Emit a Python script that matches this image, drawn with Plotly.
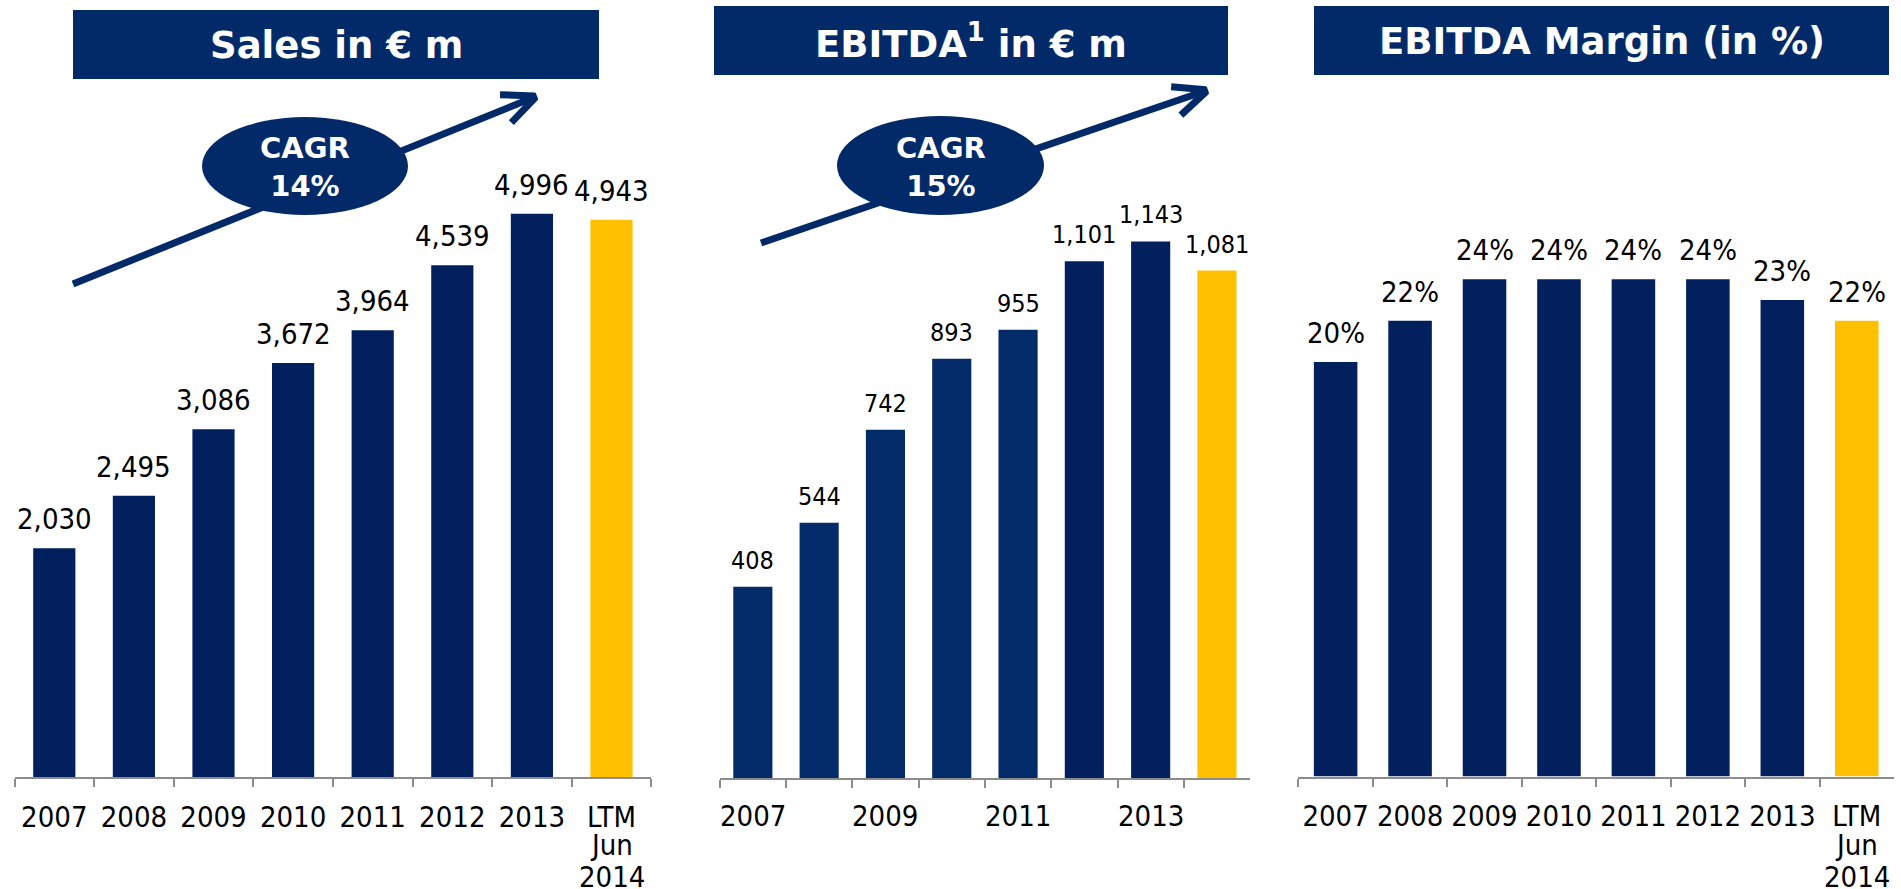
import math
import plotly.graph_objects as go

# ---------------- data ----------------
categories = ["2007", "2008", "2009", "2010", "2011", "2012", "2013", "LTM Jun 2014"]
ticks_full = ["2007", "2008", "2009", "2010", "2011", "2012", "2013", "LTM"]
ltm_extra = ["Jun", "2014"]
ticks_ebitda = ["2007", "", "2009", "", "2011", "", "2013", ""]
sales = [2030, 2495, 3086, 3672, 3964, 4539, 4996, 4943]
ebitda = [408, 544, 742, 893, 955, 1101, 1143, 1081]
margin = [20, 22, 24, 24, 24, 24, 23, 22]
titles = ["Sales in € m", "EBITDA<sup>1</sup> in € m", "EBITDA Margin (in %)"]
cagr_labels = ["CAGR<br>14%", "CAGR<br>15%"]

# ---------------- styling ----------------
NAVY = "#02205E"
NAVY2 = "#032A69"
BOX = "#022A68"
YELLOW = "#FFC000"
AXIS = "#8C8C8C"
FONT = "DejaVu Sans"
LFONT = "DejaVu Sans Condensed, DejaVu Sans"

W, H, OFF = 1901, 889, 0


def fx(x):
    return min(1.0, max(0.0, (x - OFF) / W))


def fy(y):
    return min(1.0, max(0.0, 1 - (y - OFF) / H))


def px(x):
    return (x - OFF) / W


def py(y):
    return 1 - (y - OFF) / H


fig = go.Figure()

colors1 = [NAVY] * 7 + [YELLOW]
colors2 = [NAVY2] * 5 + [NAVY] * 2 + [YELLOW]
colors3 = [NAVY] * 7 + [YELLOW]

fig.add_trace(go.Bar(x=categories, y=sales, marker=dict(color=colors1, line_width=0),
                     width=0.53, xaxis="x", yaxis="y", hoverinfo="skip"))
fig.add_trace(go.Bar(x=categories, y=ebitda, marker=dict(color=colors2, line_width=0),
                     width=0.59, xaxis="x2", yaxis="y2", hoverinfo="skip"))
fig.add_trace(go.Bar(x=categories, y=margin, marker=dict(color=colors3, line_width=0),
                     width=0.585, xaxis="x3", yaxis="y3", hoverinfo="skip"))

annotations = []
for ys, fmt, size, ax in [
    (sales, "{:,}", 29, ""),
    (ebitda, "{:,}", 25, "2"),
    (margin, "{}%", 29, "3"),
]:
    for i, v in enumerate(ys):
        annotations.append(dict(x=i, y=v, xref="x" + ax, yref="y" + ax, text=fmt.format(v),
                                showarrow=False, yanchor="bottom", yshift=10,
                                font=dict(family=LFONT, size=size, color="#000000")))

# sparse year labels of the EBITDA panel
for i, t in enumerate(ticks_ebitda):
    if t:
        annotations.append(dict(x=i, y=0, xref="x2", yref="y2", text=t, showarrow=False,
                                yanchor="top", yshift=-19,
                                font=dict(family=LFONT, size=29, color="#000000")))

# second and third lines of the "LTM Jun 2014" category label
for ax in ["", "3"]:
    for t, top in zip(ltm_extra, [834, 866]):
        annotations.append(dict(x=len(categories) - 1, y=py(top - 7.5), xref="x" + ax,
                                yref="paper", text=t, showarrow=False, yanchor="top",
                                borderpad=0,
                                font=dict(family=LFONT, size=29, color="#000000")))

# title boxes
boxes = [(73, 10, 599, 79), (714, 6, 1228, 75), (1314, 6, 1889, 75)]
shapes = []
for (x0, y0, x1, y1), t in zip(boxes, titles):
    shapes.append(dict(type="rect", xref="paper", yref="paper", x0=px(x0), x1=px(x1),
                       y0=py(y1), y1=py(y0), fillcolor=BOX, line_width=0, layer="above"))
    annotations.append(dict(x=px((x0 + x1) / 2), y=py((y0 + y1) / 2 + 1), xref="paper", yref="paper",
                            text="<b>" + t + "</b>", showarrow=False, xanchor="center",
                            yanchor="middle", font=dict(family=FONT, size=37, color="white")))

# CAGR arrows with ellipses
arrows = [((73, 284), (537, 96)), ((761, 243), (1208, 90))]
ellipses = [(202, 117, 408, 215), (837, 116, 1044, 215)]
for ((tx, ty), (hx, hy)), (ex0, ey0, ex1, ey1), lab in zip(arrows, ellipses, cagr_labels):
    shapes.append(dict(type="line", xref="paper", yref="paper", x0=px(tx), y0=py(ty),
                       x1=px(hx), y1=py(hy), line=dict(color=BOX, width=7), layer="above"))
    ang = math.atan2(ty - hy, tx - hx)
    for d in (math.radians(24), -math.radians(24)):
        ax_ = hx + 37 * math.cos(ang + d)
        ay_ = hy + 37 * math.sin(ang + d)
        shapes.append(dict(type="line", xref="paper", yref="paper", x0=px(ax_), y0=py(ay_),
                           x1=px(hx + 2 * math.cos(ang + d)), y1=py(hy + 2 * math.sin(ang + d)),
                           line=dict(color=BOX, width=7), layer="above"))
    shapes.append(dict(type="circle", xref="paper", yref="paper", x0=px(ex0), x1=px(ex1),
                       y0=py(ey1), y1=py(ey0), fillcolor=BOX, line_width=0, layer="above"))
    annotations.append(dict(x=px((ex0 + ex1) / 2), y=py((ey0 + ey1) / 2 + 1), xref="paper",
                            yref="paper", text="<b>" + lab + "</b>", showarrow=False,
                            xanchor="center", yanchor="middle",
                            font=dict(family=FONT, size=29, color="white")))

xcommon = dict(type="category", range=[-0.5, 7.5], showline=True, linecolor=AXIS, linewidth=2,
               ticks="outside", ticklen=8, tickwidth=2, tickcolor=AXIS, tickson="boundaries",
               showgrid=False, zeroline=False, tickmode="array", tickvals=categories,
               tickangle=0, ticklabelstandoff=13, automargin=False,
               tickfont=dict(family=LFONT, size=29, color="#000000"), fixedrange=True)
ycommon = dict(visible=False, showgrid=False, zeroline=False, fixedrange=True, automargin=False)

fig.update_layout(
    width=W, height=H, margin=dict(l=0, r=0, t=0, b=0, pad=0, autoexpand=False),
    paper_bgcolor="white", plot_bgcolor="white", showlegend=False,
    font=dict(family=FONT),
    xaxis=dict(xcommon, domain=[fx(14.5), fx(651.3)], ticktext=ticks_full, anchor="y"),
    yaxis=dict(ycommon, domain=[fy(777.3), fy(100.5)], range=[0, 6000], anchor="x"),
    xaxis2=dict(xcommon, domain=[fx(719.7), fx(1250.1)], ticktext=[""] * 8,
                showticklabels=False, anchor="y2"),
    yaxis2=dict(ycommon, domain=[fy(778.3), fy(120.7)], range=[0, 1400], anchor="x2"),
    xaxis3=dict(xcommon, domain=[fx(1298.4), fx(1894.0)], ticktext=ticks_full, anchor="y3"),
    yaxis3=dict(ycommon, domain=[fy(776.5), fy(154.9)], range=[0, 30], anchor="x3"),
    shapes=shapes, annotations=annotations,
)

fig.write_html("out.html", config={"displayModeBar": False},
               post_script="document.body.style.margin='0';document.body.style.overflow='hidden';")
